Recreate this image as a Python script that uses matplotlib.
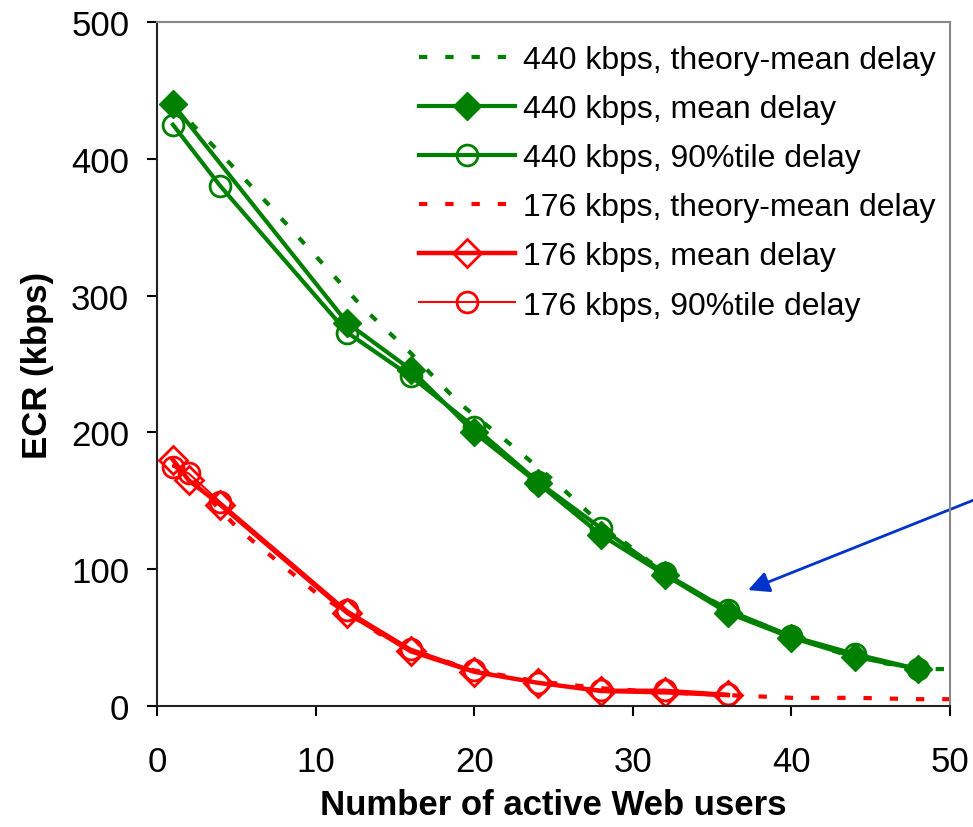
import numpy as np
import matplotlib
matplotlib.use('Agg')
import matplotlib.pyplot as plt

plt.rcParams['font.family'] = ['Liberation Sans', 'DejaVu Sans']
plt.rcParams['font.size'] = 25

# 440 kbps
x_440_theory = [1, 4, 7, 10, 13, 16, 19, 22, 25, 28, 31, 34, 37, 40, 43, 46, 49, 50]
y_440_theory = [440, 404, 367, 329, 291, 258, 222, 194, 165, 133, 106, 83, 65, 51, 39, 31, 27, 27]
x_440_mean = [1, 12, 16, 20, 24, 28, 32, 36, 40, 44, 48]
y_440_mean = [440, 280, 246, 200, 163, 125, 96, 68, 50, 36, 27]
x_440_p90 = [1, 4, 12, 16, 20, 24, 28, 32, 36, 40, 44, 48]
y_440_p90 = [425, 380, 273, 241, 204, 164, 130, 97, 70, 51, 38, 27]

# 176 kbps
x_176_theory = [1, 2, 4, 5, 6, 8, 10, 12, 14, 16, 20, 24, 28, 32, 36, 40, 44, 48, 50]
y_176_theory = [177, 168, 143, 131, 121, 102, 83, 68, 53, 41, 26, 18, 13, 10, 8, 6, 6, 5, 5]
x_176_mean = [1, 2, 4, 12, 16, 20, 24, 28, 32, 36]
y_176_mean = [180, 165, 147, 68, 40, 25, 17, 11, 10, 8]
x_176_p90 = [1, 2, 4, 12, 16, 20, 24, 28, 32, 36]
y_176_p90 = [175, 170, 149, 70, 42, 26, 17, 12, 12, 9]

green = '#008000'
red = '#ff0000'

fig = plt.figure(figsize=(9.73, 8.28), dpi=100)
ax = fig.add_axes([0.1614, 0.1461, 0.815, 0.826])

ax.plot(x_440_theory, y_440_theory, color=green, lw=3, dashes=(2, 4.3),
        label='440 kbps, theory-mean delay')
ax.plot(x_440_mean, y_440_mean, color=green, lw=3, marker='D', ms=14,
        label='440 kbps, mean delay')
ax.plot(x_440_p90, y_440_p90, color=green, lw=3, marker='o', ms=15,
        mfc='none', mew=2, label='440 kbps, 90%tile delay')
ax.plot(x_176_theory, y_176_theory, color=red, lw=3, dashes=(2, 4.3),
        label='176 kbps, theory-mean delay')
ax.plot(x_176_mean, y_176_mean, color=red, lw=3.2, marker='D', ms=14,
        mfc='none', mew=2, label='176 kbps, mean delay')
ax.plot(x_176_p90, y_176_p90, color=red, lw=1.5, marker='o', ms=15,
        mfc='none', mew=2, label='176 kbps, 90%tile delay')

ax.annotate('', xy=(37.1, 84), xytext=(51.8, 152), annotation_clip=False,
            arrowprops=dict(arrowstyle='-|>', color='#0033cc', lw=2,
                            mutation_scale=32))

ax.set_xlim(0, 50)
ax.set_ylim(0, 500)
ax.set_xticks(range(0, 51, 10))
ax.set_yticks(range(0, 501, 100))
ax.tick_params(direction='out', length=7, width=1.5)
ax.tick_params(axis='x', pad=21)
ax.tick_params(axis='y', pad=13)
for s in ['left', 'bottom']:
    ax.spines[s].set_linewidth(1.5)
    ax.spines[s].set_color('#222222')
for s in ['top', 'right']:
    ax.spines[s].set_linewidth(1.5)
    ax.spines[s].set_color('#888888')
for s in ax.spines.values():
    s.set_zorder(10)

ax.set_xlabel('Number of active Web users', fontweight='bold', labelpad=7)
ax.set_ylabel('ECR (kbps)', fontweight='bold', labelpad=12)

leg = ax.legend(loc='upper right', bbox_to_anchor=(1.0, 0.988), borderaxespad=0,
                fontsize=23, frameon=True, fancybox=False, edgecolor='none',
                facecolor='white', framealpha=1,
                handlelength=3.0, handletextpad=0.25, labelspacing=0.6,
                borderpad=0.45)
leg.set_zorder(5)

fig.savefig('out.png', dpi=100)
